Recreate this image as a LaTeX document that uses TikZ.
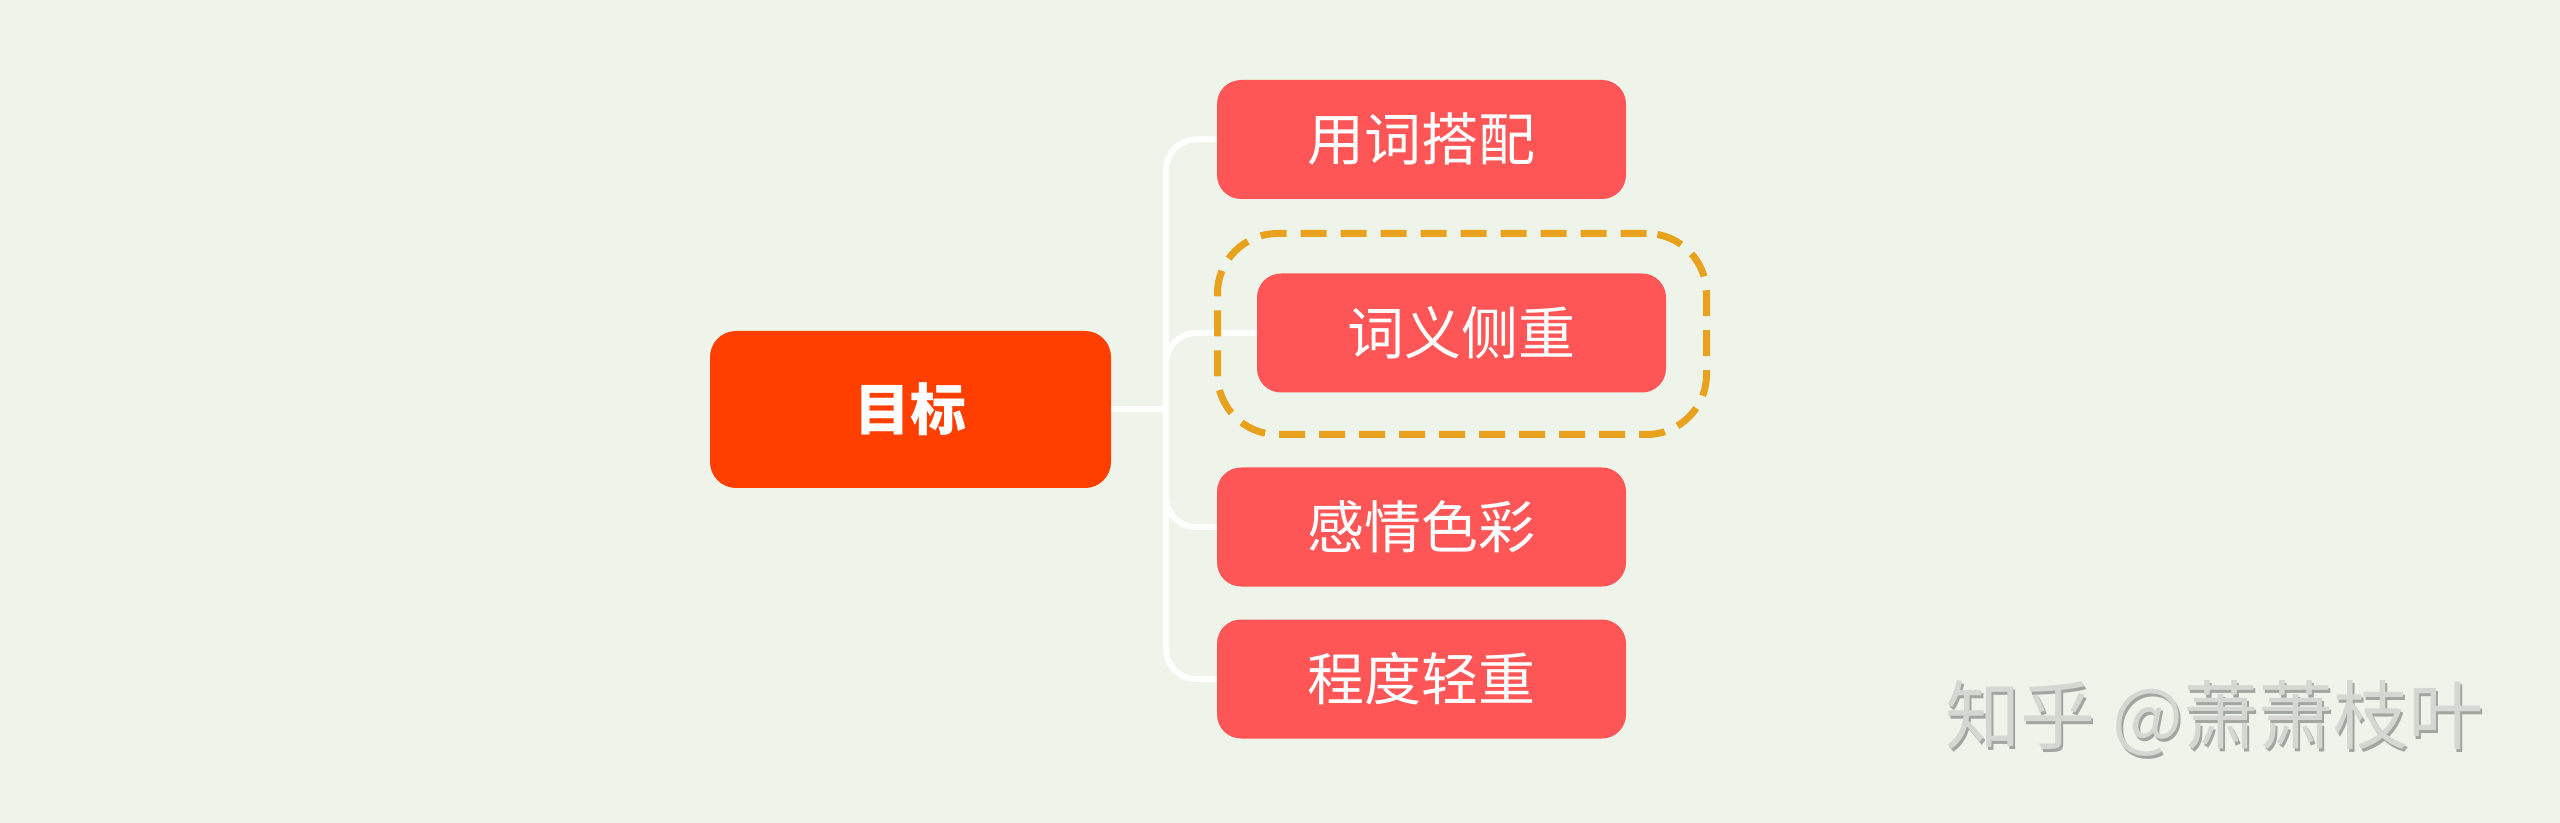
\documentclass[tikz,border=0pt]{standalone}
\usepackage{fontspec}
\newfontfamily\cjk{Noto Sans CJK SC}
\pgfdeclarelayer{bglayer}
\pgfdeclarelayer{connlayer}
\pgfsetlayers{bglayer,connlayer,main}
\definecolor{bgc}{HTML}{EEF4E9}
\definecolor{rootc}{HTML}{FF3F00}
\definecolor{childc}{HTML}{FE5656}
\definecolor{dashc}{HTML}{E9A21E}
\definecolor{wmc}{HTML}{D4D7D2}
\definecolor{wms}{HTML}{A2A6A1}
\tikzset{
  rootbox/.style={fill=rootc, draw=none, rounded corners=13pt, minimum width=200.5pt, minimum height=78.5pt, inner sep=0pt, text=white, font=\cjk\bfseries\fontsize{28pt}{30pt}\selectfont},
  childbox/.style={fill=childc, draw=none, rounded corners=12pt, minimum width=204.5pt, minimum height=59.5pt, inner sep=0pt, text=white, font=\cjk\fontsize{28.5pt}{30pt}\selectfont},
  dashbox/.style={draw=dashc, line width=3.5pt, dash pattern=on 13pt off 7pt, rounded corners=30pt, minimum width=244.5pt, minimum height=100.5pt, inner sep=0pt},
  conn/.style={draw=white, line width=3pt},
  wmtext/.style={font=\cjk\fontsize{37.5pt}{40pt}\selectfont, inner sep=0pt, anchor=west}
}
\begin{document}
\begin{tikzpicture}[x=0.5pt,y=-0.5pt]
\begin{pgfonlayer}{bglayer}
\fill[bgc] (0,0) rectangle (2560,823);
\end{pgfonlayer}
\useasboundingbox (0,0) rectangle (2560,823);
% nodes
\node[rootbox] (root) at (910.5,409.5) {目标};
\node[childbox] (c1) at (1421.5,139.5) {用词搭配};
\node[childbox] (c2) at (1461.5,333) {词义侧重};
\node[childbox] (c3) at (1421.5,527) {感情色彩};
\node[childbox] (c4) at (1421.5,679) {程度轻重};
% connectors
\coordinate (j) at (1166,409.5);
\begin{pgfonlayer}{connlayer}
\draw[conn] (root.east) -- (j);
\draw[conn, rounded corners=15pt] (j) |- (c1.west);
\draw[conn, rounded corners=15pt] (j) |- (c2.west);
\draw[conn, rounded corners=15pt] (j) |- (c3.west);
\draw[conn, rounded corners=15pt] (j) |- (c4.west);
\end{pgfonlayer}
% dashed highlight
\node[dashbox] (hl) at (1462,334) {};
% watermark
\node[wmtext, text=wms] (wms) at (1947,721) {知乎 @萧萧枝叶};
\node[wmtext, text=wmc] (wm) at (1945,718) {知乎 @萧萧枝叶};
\end{tikzpicture}
\end{document}
